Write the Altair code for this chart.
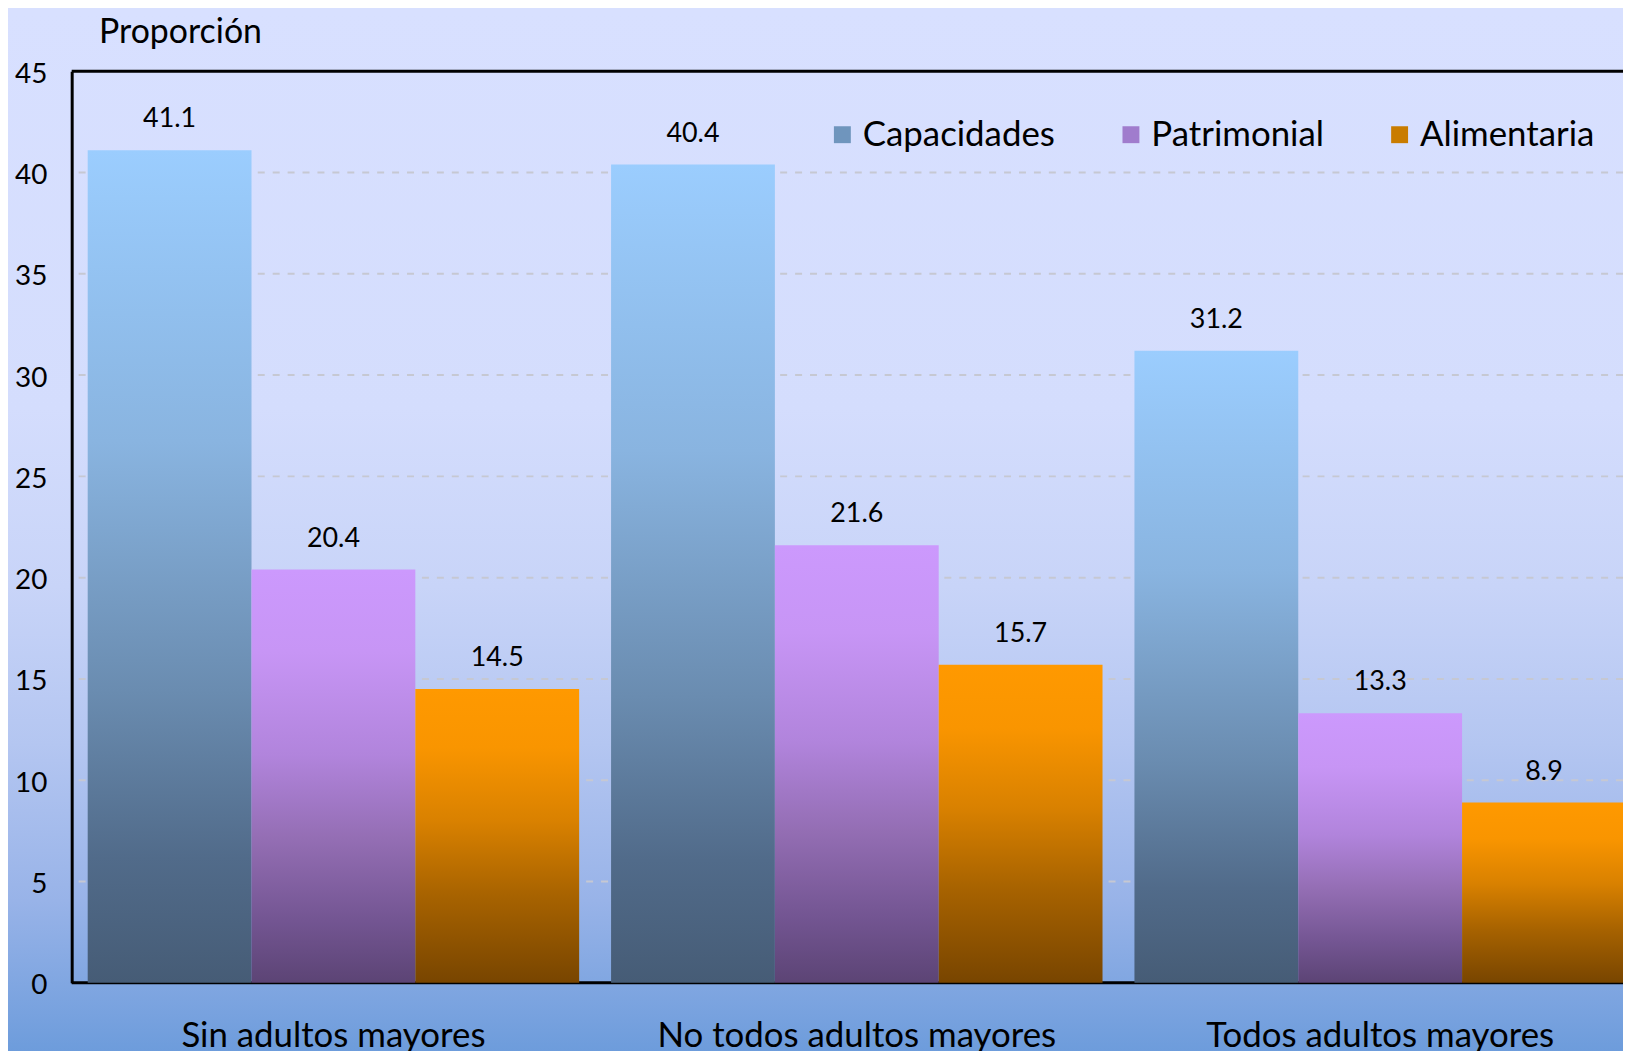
import altair as alt
import pandas as pd

groups = ["Sin adultos mayores", "No todos adultos mayores", "Todos adultos mayores"]
series = ["Capacidades", "Patrimonial", "Alimentaria"]
capacidades = [41.1, 40.4, 31.2]
patrimonial = [20.4, 21.6, 13.3]
alimentaria = [14.5, 15.7, 8.9]
y_ticks = [0, 5, 10, 15, 20, 25, 30, 35, 40, 45]
grid_values = [5, 10, 15, 20, 25, 30, 35, 40]
border_values = [0, 45]
legend_colors = ["#6f95bd", "#a07ccd", "#c97c00"]

FONT = "Lato"
W, H = 1559, 916
PAD_L, PAD_T, PAD_R, PAD_B = 64, 61, 0, 66
X_RANGE = 1578

rows = []
for s, vals in zip(series, [capacidades, patrimonial, alimentaria]):
    for g, v in zip(groups, vals):
        rows.append({"Grupo": g, "Serie": s, "Valor": v})
df = pd.DataFrame(rows)


def grad(stops):
    return {
        "gradient": "linear",
        "x1": 0, "y1": 0, "x2": 0, "y2": 1,
        "stops": [{"offset": o, "color": c} for o, c in stops],
    }


bar_grads = {
    "Capacidades": grad([(0, "#9bcdfe"), (0.35, "#89b4e0"), (0.65, "#6a8cb0"),
                         (0.85, "#516b8a"), (1, "#465c76")]),
    "Patrimonial": grad([(0, "#cc99fd"), (0.2, "#c795f5"), (0.45, "#b184dc"),
                         (0.65, "#946eb4"), (0.85, "#735592"), (1, "#5c4475")]),
    "Alimentaria": grad([(0, "#ff9900"), (0.2, "#f99500"), (0.45, "#d98100"),
                         (0.7, "#a86300"), (1, "#784500")]),
}

bg_grad = grad([(0, "#d8e0ff"), (0.38, "#d4ddfd"), (0.55, "#c8d4f8"),
                (0.7, "#b4c6f1"), (0.85, "#98b3e8"), (1, "#6b9bdb")])

x_axis = alt.Axis(
    title=None, domain=False, ticks=False, grid=False,
    labelFont=FONT, labelFontSize=35, labelColor="black",
    labelPadding=36, labelBaseline="top", labelAngle=0, labelLimit=600,
    zindex=1,
)
x_scale = alt.Scale(domain=groups, range=[0, X_RANGE], paddingInner=0.061, paddingOuter=0.0306)
y_scale = alt.Scale(domain=[0, 45], nice=False)
y_axis = alt.Axis(
    values=y_ticks, grid=False, ticks=False, domain=True,
    domainColor="black", domainWidth=3,
    labelFont=FONT, labelFontSize=28, labelColor="black", labelPadding=25,
    labelOffset=3, zindex=1,
    title="Proporción", titleFont=FONT, titleFontSize=34, titleFontWeight="normal",
    titleColor="black", titleAngle=0, titleAlign="left", titleBaseline="alphabetic",
    titleX=27, titleY=-29,
)

X = alt.X("Grupo:N", sort=groups, scale=x_scale, axis=x_axis)
XO = alt.XOffset("Serie:N", sort=series,
                 scale=alt.Scale(domain=series, paddingInner=0, paddingOuter=0))

background = alt.Chart(alt.Data(values=[{"bg": 1}])).mark_rect(
    color=bg_grad, strokeWidth=0
).encode(
    x=alt.value(-PAD_L), x2=alt.value(W + 40),
    y=alt.value(-PAD_T), y2=alt.value(H + PAD_B + 10),
)

grid = alt.Chart(pd.DataFrame({"v": grid_values})).mark_rule(
    color="#c6c8d2", strokeWidth=2, strokeDash=[7, 8]
).encode(y=alt.Y("v:Q", scale=y_scale, axis=y_axis))

borders = alt.Chart(pd.DataFrame({"v": border_values})).mark_rule(
    color="black", strokeWidth=3
).encode(y=alt.Y("v:Q", scale=y_scale, axis=y_axis))

bars = []
for s in series:
    bars.append(
        alt.Chart(df).transform_filter(alt.datum.Serie == s).mark_bar(
            color=bar_grads[s], strokeWidth=0
        ).encode(
            x=X, xOffset=XO,
            y=alt.Y("Valor:Q", scale=y_scale, axis=y_axis),
        )
    )

legend_layer = alt.Chart(df).mark_square(opacity=0, size=1).encode(
    x=X, xOffset=XO,
    y=alt.Y("Valor:Q", scale=y_scale, axis=y_axis),
    color=alt.Color(
        "Serie:N", sort=series,
        scale=alt.Scale(domain=series, range=legend_colors),
        legend=alt.Legend(
            orient="none", legendX=757, legendY=46, direction="horizontal",
            title=None, symbolType="square", symbolSize=289, symbolOpacity=1,
            symbolStrokeWidth=0, labelFont=FONT, labelFontSize=35,
            labelColor="black", labelOffset=3, columnPadding=58, labelLimit=400,
        ),
    ),
)

labels = alt.Chart(df).mark_text(
    baseline="alphabetic", dy=-23, font=FONT, fontSize=27, color="black"
).encode(
    x=X, xOffset=XO,
    y=alt.Y("Valor:Q", scale=y_scale, axis=y_axis),
    text=alt.Text("Valor:Q", format=".1f"),
)

chart = alt.layer(
    background, grid, borders, *bars, legend_layer, labels
).properties(
    width=W, height=H,
    autosize=alt.AutoSizeParams(type="none"),
    padding={"left": PAD_L, "top": PAD_T, "right": PAD_R, "bottom": PAD_B},
).configure_view(stroke=None).configure(background="#d8e0ff")

chart.save("out.html", embed_options={"renderer": "svg", "actions": False})
